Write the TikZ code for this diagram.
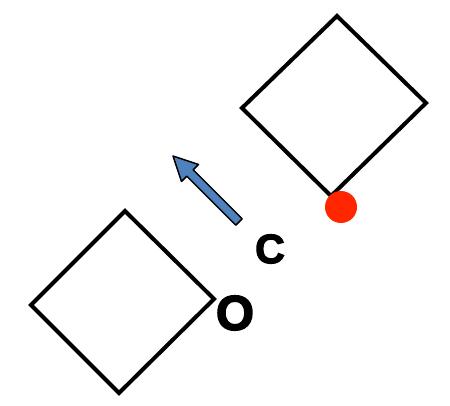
\documentclass[tikz,border=0pt]{standalone}
\usepackage{fontspec}
\setmainfont{Liberation Sans}
\newfontfamily\labelfont[FakeBold=3]{Liberation Sans Bold}
\definecolor{dotred}{RGB}{255,38,0}
\definecolor{arrowblue}{RGB}{79,129,189}

\begin{document}
\begin{tikzpicture}[x=1pt, y=-1pt, line width=4pt]
		\useasboundingbox (0, 0) rectangle (450, 406);
		\draw (337, 16) -- (426, 103) -- (331, 196) -- (242, 108) -- cycle;
		\draw (125, 211) -- (214, 299) -- (119, 393) -- (31, 305) -- cycle;
		\fill[dotred] (341, 207) circle (16);
		\filldraw[draw=black, fill=arrowblue, line width=1.5pt, line join=round] (173, 156) -- (198.5, 164.5) -- (193.2, 169.8) -- (242.2, 218.8) -- (235.8, 225.2) -- (186.8, 176.2) -- (181.5, 181.5) -- cycle;
		\node[inner sep=0] (c) at (270, 249) {\fontsize{41}{41}\labelfont C};
		\node[inner sep=0] (o) at (235, 313) {\fontsize{49}{49}\labelfont O};
	\end{tikzpicture}
\end{document}
